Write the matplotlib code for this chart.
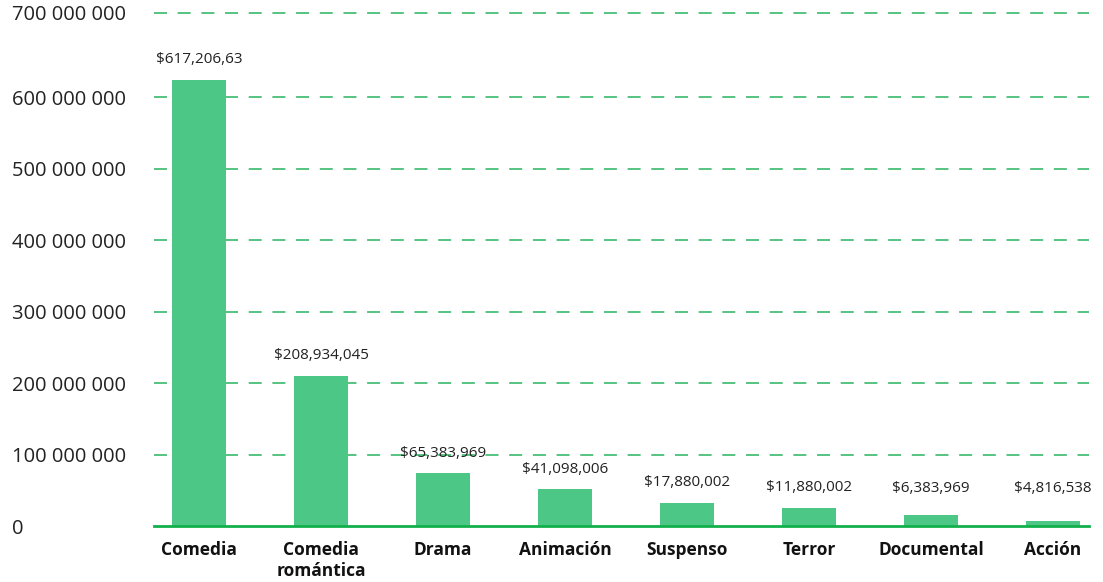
import matplotlib.pyplot as plt
from matplotlib.ticker import FixedLocator

plt.rcParams['font.family'] = ['Open Sans', 'DejaVu Sans']

# datos
generos = ["Comedia", "Comedia\nromántica", "Drama", "Animación", "Suspenso",
           "Terror", "Documental", "Acción"]
# altura de las barras (millones)
alturas = [623.8, 209.8, 74.1, 51.7, 32.2, 25.2, 15.4, 7.0]
etiquetas = ["$617,206,63", "$208,934,045", "$65,383,969", "$41,098,006",
             "$17,880,002", "$11,880,002", "$6,383,969", "$4,816,538"]
ticks_y = [0, 100, 200, 300, 400, 500, 600, 717.5]
ticks_y_txt = ["0", "100 000 000", "200 000 000", "300 000 000", "400 000 000",
               "500 000 000", "600 000 000", "700 000 000"]

fig = plt.figure(figsize=(11.03, 5.82), dpi=100)
ax = fig.add_axes([154 / 1103, 56 / 582, 935 / 1103, 513 / 582])

x = range(len(generos))
ax.bar(x, alturas, width=0.443, color='#4dc785', zorder=2)

# etiquetas sobre las barras
for i, (v, t) in enumerate(zip(alturas, etiquetas)):
    y = max(v + 28, 53)
    ax.text(i, y, t, ha='center', va='center', fontsize=11, color='#222222')

ax.set_xlim(-0.369, 7.295)
ax.set_ylim(0, 717.5)

ax.yaxis.set_major_locator(FixedLocator(ticks_y))
ax.set_yticklabels(ticks_y_txt, fontsize=14.5, color='#222222', ha='left')
ax.tick_params(axis='y', length=0, pad=102)
ax.set_xticks(list(x))
ax.set_xticklabels(generos, fontsize=12.5, fontweight='bold', color='#111111',
                   linespacing=1.2, va='top')
ax.tick_params(axis='x', length=0, pad=11)

for y in ticks_y[1:]:
    ax.axhline(y, color='#27b35e', lw=1.1, dashes=(8.5, 7), zorder=1,
               clip_on=False)
ax.axhline(0, color='#12b04c', lw=2, zorder=3, clip_on=False)

for s in ax.spines.values():
    s.set_visible(False)

fig.savefig('out.png', dpi=100)
